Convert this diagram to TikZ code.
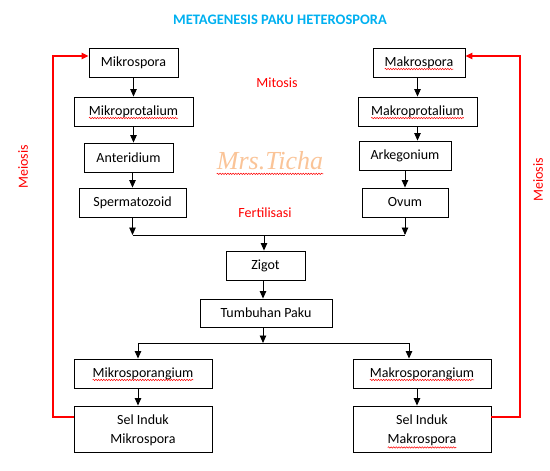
\documentclass[tikz,border=0pt]{standalone}
\usepackage{fontspec}
\setmainfont{Carlito}
\usetikzlibrary{arrows.meta,decorations.pathmorphing}
\definecolor{titleblue}{RGB}{0,176,240}
\definecolor{peach}{RGB}{250,196,152}
\definecolor{redline}{RGB}{255,0,0}
\newfontfamily\wmfont{Liberation Serif}
\tikzset{
  box/.style={draw=black, line width=0.9pt, inner sep=0pt, align=center, font=\fontsize{14}{19}\selectfont},
  arr/.style={draw=black, line width=0.9pt, -{Triangle[width=6.5pt,length=7.5pt]}},
  plain/.style={draw=black, line width=0.9pt},
  redarr/.style={draw=redline, line width=1.3pt, -{Triangle[width=6.5pt,length=7pt]}},
  redlabel/.style={text=redline, font=\fontsize{14}{17}\selectfont},
  wave/.style={draw=red, line width=0.5pt, decorate, decoration={snake, amplitude=0.7pt, segment length=2.6pt}},
}
\newcommand\wavyunder[2]{%
  \pgfmathsetmacro\ww{width("#2")}%
  \draw[wave] ([xshift=-\ww/2, yshift=-2.8pt]#1.base) -- ++(\ww,0);}
\begin{document}
\begin{tikzpicture}[x=1pt,y=-1pt]
\fontsize{14}{19}\selectfont
\useasboundingbox (0,0) rectangle (550,471);
\node[font=\bfseries\fontsize{14.5}{17}\selectfont, text=titleblue] (title) at (280,20) {METAGENESIS PAKU HETEROSPORA};

\node[box, minimum width=89pt, minimum height=29pt] (mikro) at (133.5,62.5) {Mikrospora};
\node[box, minimum width=92pt, minimum height=29pt] (makro) at (419,62.5) {Makrospora};
\node[box, minimum width=119pt, minimum height=29pt] (mprot) at (133.5,111.5) {Mikroprotalium};
\node[box, minimum width=119pt, minimum height=29pt] (maprot) at (417.5,111.5) {Makroprotalium};
\node[box, minimum width=89pt, minimum height=29pt] (anter) at (128.5,157.5) {Anteridium};
\node[box, minimum width=92pt, minimum height=29pt] (arkeg) at (405,155.5) {Arkegonium};
\node[box, minimum width=107pt, minimum height=29pt] (sperm) at (132.5,202.5) {Spermatozoid};
\node[box, minimum width=86pt, minimum height=29pt] (ovum) at (405,202.5) {Ovum};
\node[box, minimum width=79pt, minimum height=29pt] (zigot) at (265.5,265.5) {Zigot};
\node[box, minimum width=132pt, minimum height=28pt] (tumb) at (266,313) {Tumbuhan Paku};
\node[box, minimum width=138pt, minimum height=29pt] (msporang) at (143,373.5) {Mikrosporangium};
\node[box, minimum width=138pt, minimum height=29pt] (masporang) at (422,373.5) {Makrosporangium};
\node[box, minimum width=138pt, minimum height=46pt, text depth=-0.5pt] (selmi) at (143,429) {Sel Induk\\Mikrospora};
\node[box, minimum width=138pt, minimum height=46pt, text depth=-0.5pt] (selma) at (422,429) {Sel Induk\\Makrospora};

\node[redlabel] (mitosis) at (277,83) {Mitosis};
\node[redlabel] (fert) at (265,213) {Fertilisasi};
\node[redlabel, rotate=90] (meil) at (23,167) {Meiosis};
\node[redlabel, rotate=90] (meir) at (538,180) {Meiosis};
\node[text=peach, inner sep=0pt, font=\wmfont\itshape\fontsize{26}{28}\selectfont] (wm) at (270,161) {Mrs.Ticha};

% spell-check underlines
\wavyunder{makro}{Makrospora}
\wavyunder{mprot}{Mikroprotalium}
\wavyunder{maprot}{Makroprotalium}
\wavyunder{msporang}{Mikrosporangium}
\wavyunder{masporang}{Makrosporangium}
\pgfmathsetmacro\ww{width("Makrospora")}
\draw[wave] ([xshift=-\ww/2, yshift=5pt]selma.south) -- ++(\ww,0);
\draw[wave] ([yshift=-4pt]wm.base west) -- ([yshift=-4pt]wm.base east);

% left chain
\draw[arr] (mikro.south) -- (mikro.south |- mprot.north);
\draw[arr] (mprot.south) -- (mprot.south |- anter.north);
\draw[arr] (anter.south -| sperm.north) -- (sperm.north);
% right chain
\draw[arr] (maprot.north |- makro.south) -- (maprot.north);
\draw[arr] (maprot.south) -- (maprot.south |- arkeg.north);
\draw[arr] (arkeg.south -| ovum.north) -- (ovum.north);
% fertilisation junction
\coordinate (jf) at (264,235);
\draw[arr] (sperm.south) -- (sperm.south |- jf);
\draw[arr] (ovum.south) -- (ovum.south |- jf);
\draw[plain] (sperm.south |- jf) -- (ovum.south |- jf);
\draw[arr] (jf) -- (jf |- zigot.north);
\coordinate (jz) at (263,0);
\draw[arr] (zigot.south -| jz) -- (tumb.north -| jz);
% branch
\coordinate (jt) at (263,343);
\coordinate (jl) at (138,343);
\coordinate (jr) at (409,343);
\draw[arr] (tumb.south -| jt) -- (jt);
\draw[plain] (jl) -- (jr);
\draw[arr] (jl) -- (jl |- msporang.north);
\draw[arr] (jr) -- (jr |- masporang.north);
\draw[arr] (msporang.south -| jl) -- (selmi.north -| jl);
\coordinate (jr2) at (417,0);
\draw[arr] (masporang.south -| jr2) -- (selma.north -| jr2);
% meiosis loops
\coordinate (lb) at (53,417);
\coordinate (lt) at (53,56);
\coordinate (rb) at (520,417);
\coordinate (rt) at (520,56);
\draw[redarr] (selmi.west |- lb) -- (lb) -- (lt) -- (mikro.west |- lt);
\draw[redarr] (selma.east |- rb) -- (rb) -- (rt) -- (makro.east |- rt);
\end{tikzpicture}
\end{document}
